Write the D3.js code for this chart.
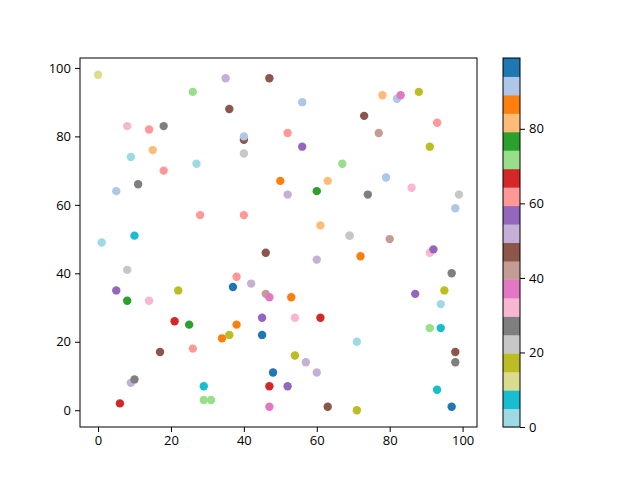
<!DOCTYPE html>
<html>
<head>
<meta charset="utf-8">
<script src="https://cdn.jsdelivr.net/npm/d3@7"></script>
<style>
  body { margin: 0; background: #fff; }
  text { font-family: "Open Sans", "Noto Sans", sans-serif; }
</style>
</head>
<body>
<div id="chart"></div>
<script>
// point positions and colour values
const xs = [0, 26, 8, 14, 18, 15, 9, 27, 18, 11,
    35, 47, 56, 36, 52, 40, 40, 56, 40, 67,
    50, 63, 78, 82, 83, 88, 73, 93, 77, 91,
    79, 86, 5, 28, 10, 1, 8, 5, 22, 8,
    14, 52, 60, 40, 61, 46, 60, 38, 42, 37,
    46, 47, 53, 74, 99, 98, 69, 69, 80, 72,
    91, 92, 97, 95, 87, 94, 21, 25, 26, 17,
    9, 10, 29, 29, 31, 6, 45, 54, 61, 38,
    34, 36, 45, 54, 57, 60, 48, 47, 52, 47,
    63, 91, 94, 71, 98, 98, 93, 97, 71];
const ys = [98, 93, 83, 82, 83, 76, 74, 72, 70, 66,
    97, 97, 90, 88, 81, 79, 80, 77, 75, 72,
    67, 67, 92, 91, 92, 93, 86, 84, 81, 77,
    68, 65, 64, 57, 51, 49, 41, 35, 35, 32,
    32, 63, 64, 57, 54, 46, 44, 39, 37, 36,
    34, 33, 33, 63, 63, 59, 51, 51, 50, 45,
    46, 47, 40, 35, 34, 31, 26, 25, 18, 17,
    8, 9, 7, 3, 3, 2, 27, 27, 27, 25,
    21, 22, 22, 16, 14, 11, 11, 7, 7, 1,
    1, 24, 24, 20, 17, 14, 6, 1, 0];
const cs = [12, 72, 32, 62, 27, 82, 2, 2, 62, 27,
    52, 47, 92, 47, 62, 47, 92, 57, 22, 72,
    87, 82, 82, 92, 37, 17, 47, 62, 42, 17,
    92, 32, 92, 62, 7, 2, 22, 57, 17, 77,
    32, 52, 77, 62, 82, 47, 52, 62, 52, 97,
    42, 37, 87, 27, 22, 92, 92, 22, 42, 87,
    32, 57, 27, 17, 57, 2, 67, 77, 62, 47,
    52, 27, 7, 72, 72, 67, 57, 32, 67, 87,
    87, 17, 97, 17, 52, 52, 97, 67, 57, 37,
    47, 72, 7, 2, 47, 27, 7, 97, 17];

const xTicks = [0, 20, 40, 60, 80, 100];
const yTicks = [0, 20, 40, 60, 80, 100];
const cbTicks = [0, 20, 40, 60, 80];

// tab20, reversed
const tab20r = ["#9edae5", "#17becf", "#dbdb8d", "#bcbd22", "#c7c7c7", "#7f7f7f",
    "#f7b6d2", "#e377c2", "#c49c94", "#8c564b", "#c5b0d5", "#9467bd",
    "#ff9896", "#d62728", "#98df8a", "#2ca02c", "#ffbb78", "#ff7f0e",
    "#aec7e8", "#1f77b4"];

const width = 640, height = 480;
const axLeft = 80, axRight = 477, axTop = 58, axBottom = 427;

const svg = d3.select("#chart").append("svg")
    .attr("width", width)
    .attr("height", height);

// 5% margins around the data range, like matplotlib
const xMin = d3.min(xs), xMax = d3.max(xs);
const yMin = d3.min(ys), yMax = d3.max(ys);
const xPad = (xMax - xMin) * 0.05, yPad = (yMax - yMin) * 0.05;

const x = d3.scaleLinear().domain([xMin - xPad, xMax + xPad]).range([axLeft, axRight]);
const y = d3.scaleLinear().domain([yMin - yPad, yMax + yPad]).range([axBottom, axTop]);
const color = d3.scaleQuantize().domain([0, 99]).range(tab20r);

const points = xs.map((v, i) => ({ x: v, y: ys[i], c: cs[i] }));

svg.selectAll("circle.pt")
    .data(points)
    .enter().append("circle")
    .attr("class", "pt")
    .attr("cx", d => x(d.x))
    .attr("cy", d => y(d.y))
    .attr("r", 4.2)
    .attr("fill", d => color(d.c));

// axes
const xAxis = svg.append("g")
    .attr("transform", `translate(0,${axBottom})`)
    .call(d3.axisBottom(x).tickValues(xTicks).tickSize(5).tickPadding(4));
const yAxis = svg.append("g")
    .attr("transform", `translate(${axLeft},0)`)
    .call(d3.axisLeft(y).tickValues(yTicks).tickSize(5).tickPadding(4));

[xAxis, yAxis].forEach(g => {
    g.select(".domain").remove();
    g.selectAll("line").attr("stroke", "#000").attr("stroke-width", 1);
    g.selectAll("text").attr("font-size", 13).attr("fill", "#000")
        .attr("font-family", "'Open Sans', 'Noto Sans', sans-serif");
});

svg.append("rect")
    .attr("x", axLeft).attr("y", axTop)
    .attr("width", axRight - axLeft).attr("height", axBottom - axTop)
    .attr("fill", "none").attr("stroke", "#000").attr("stroke-width", 1);

// colorbar
const cbLeft = 503, cbRight = 520;
const cy = d3.scaleLinear().domain([0, 99]).range([axBottom, axTop]);
const bands = d3.range(tab20r.length);
const bw = 99 / tab20r.length;

svg.selectAll("rect.band")
    .data(bands)
    .enter().append("rect")
    .attr("class", "band")
    .attr("x", cbLeft)
    .attr("width", cbRight - cbLeft)
    .attr("y", d => cy((d + 1) * bw))
    .attr("height", d => cy(d * bw) - cy((d + 1) * bw) + 0.5)
    .attr("fill", d => tab20r[d]);

svg.append("rect")
    .attr("x", cbLeft).attr("y", axTop)
    .attr("width", cbRight - cbLeft).attr("height", axBottom - axTop)
    .attr("fill", "none").attr("stroke", "#000").attr("stroke-width", 1);

const cbAxis = svg.append("g")
    .attr("transform", `translate(${cbRight},0)`)
    .call(d3.axisRight(cy).tickValues(cbTicks).tickSize(5).tickPadding(4));
cbAxis.select(".domain").remove();
cbAxis.selectAll("line").attr("stroke", "#000");
cbAxis.selectAll("text").attr("font-size", 13).attr("fill", "#000")
    .attr("font-family", "'Open Sans', 'Noto Sans', sans-serif");
</script>
</body>
</html>
